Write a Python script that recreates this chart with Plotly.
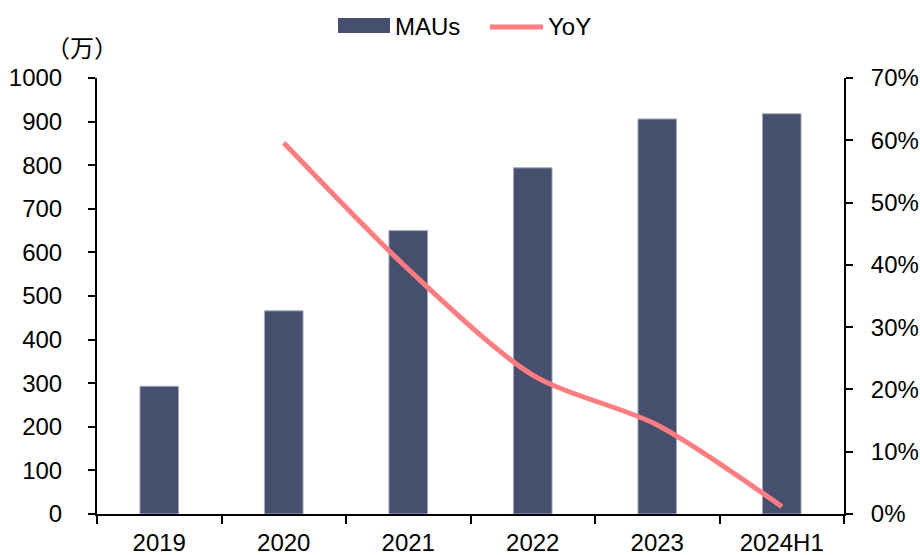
import plotly.graph_objects as go

categories = ["2019", "2020", "2021", "2022", "2023", "2024H1"]
maus = [293, 466, 650, 794, 906, 918]
yoy_categories = ["2020", "2021", "2022", "2023", "2024H1"]
yoy = [0.596, 0.393, 0.223, 0.143, 0.012]
left_ticks = list(range(0, 1001, 100))
right_ticks = [i / 10 for i in range(0, 8)]

FONT = "Liberation Sans, Arial, sans-serif"
BAR_COLOR = "#46506E"
LINE_COLOR = "#FF7C80"

W, H = 920, 555
# plot area in page pixels: x 97..844, y 78..514
L, R, T, B = 97, 844, 78, 514
def px(x):
    return (x - L) / (R - L)
def py(y):
    return (B - y) / (B - T)

fig = go.Figure()
fig.add_trace(go.Bar(
    x=categories, y=maus, name="MAUs", width=0.31,
    marker=dict(color=BAR_COLOR, line=dict(color="#A4ABC2", width=1)),
))
fig.add_trace(go.Scatter(
    x=yoy_categories, y=yoy, name="YoY", yaxis="y2", mode="lines",
    line=dict(color=LINE_COLOR, width=5, shape="spline", smoothing=0.8),
))

fig.update_layout(
    width=W, height=H,
    margin=dict(l=L, r=W - R, t=T, b=H - B, autoexpand=False),
    paper_bgcolor="white", plot_bgcolor="white",
    font=dict(family=FONT, size=24, color="black"),
    showlegend=False,
    xaxis=dict(
        type="category", showline=True, linecolor="black", linewidth=2,
        ticks="outside", tickson="boundaries", ticklen=8, tickcolor="black", tickwidth=2,
        showgrid=False, tickfont=dict(size=24), zeroline=False, ticklabelstandoff=6,
    ),
    yaxis=dict(
        range=[0, 1000], tickvals=left_ticks, showline=True, linecolor="black", linewidth=2,
        ticks="outside", ticklen=7, tickcolor="black", tickwidth=2, showgrid=False,
        zeroline=False, tickfont=dict(size=24), ticklabelstandoff=21,
    ),
    yaxis2=dict(
        range=[0, 0.7], tickvals=right_ticks, tickformat=".0%", overlaying="y", side="right",
        showline=True, linecolor="black", linewidth=2, ticks="outside", ticklen=7,
        tickcolor="black", tickwidth=2, showgrid=False, zeroline=False, tickfont=dict(size=24),
        ticklabelstandoff=13,
    ),
    shapes=[
        dict(type="rect", xref="paper", yref="paper", x0=px(338), x1=px(390),
             y0=py(33), y1=py(18), fillcolor=BAR_COLOR, line=dict(width=0)),
        dict(type="line", xref="paper", yref="paper", x0=px(490), x1=px(543),
             y0=py(27), y1=py(27), line=dict(color=LINE_COLOR, width=5)),
    ],
    annotations=[
        dict(text="MAUs", xref="paper", yref="paper", x=px(393), y=py(26),
             xanchor="left", yanchor="middle", showarrow=False, font=dict(size=24)),
        dict(text="YoY", xref="paper", yref="paper", x=px(546), y=py(26),
             xanchor="left", yanchor="middle", showarrow=False, font=dict(size=24)),
        dict(text="（万）", xref="paper", yref="paper", x=px(120), y=py(46),
             xanchor="right", yanchor="middle", showarrow=False,
             font=dict(size=24, family="Noto Sans CJK SC, " + FONT)),
    ],
)

fig.write_html(
    "out.html",
    config={"displayModeBar": False},
    post_script="document.documentElement.style.margin='0';document.body.style.margin='0';"
                "document.body.style.overflow='hidden';",
)
